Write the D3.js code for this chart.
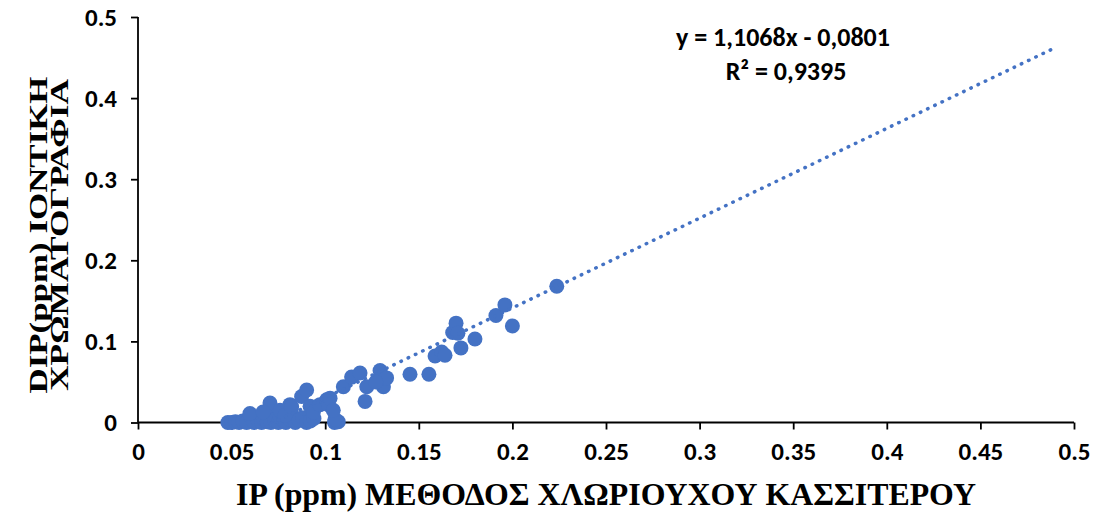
<!DOCTYPE html>
<html>
<head>
<meta charset="utf-8">
<script src="https://cdn.jsdelivr.net/npm/d3@7"></script>
<style>
  body { margin: 0; background: #fff; }
  .tick text { font-family: Carlito, Calibri, Lato, sans-serif; font-weight: bold; font-size: 25px; fill: #000; }
</style>
</head>
<body>
<div class="chart"></div>
<script>
//Data: IP (x) against DIP (y), in ppm.
var ipValues = [
  0.048, 0.050, 0.052, 0.054, 0.056, 0.058, 0.060, 0.062, 0.064, 0.066,
  0.067, 0.069, 0.071, 0.072, 0.073, 0.075, 0.076, 0.078, 0.079, 0.081,
  0.082, 0.084, 0.086, 0.088, 0.090, 0.092, 0.094, 0.105, 0.107,
  0.0705, 0.0812, 0.0598, 0.0759, 0.0668, 0.0785, 0.0821, 0.0874, 0.0901, 0.0919,
  0.0937, 0.0972, 0.1008, 0.1017, 0.1026, 0.1052, 0.1043, 0.1097, 0.1141, 0.1186,
  0.1213, 0.1222, 0.1293, 0.1311, 0.1328, 0.1270, 0.1453, 0.1554, 0.1587, 0.1622,
  0.1640, 0.1681, 0.1699, 0.1709, 0.1725, 0.1800, 0.1912, 0.1960, 0.2000, 0.2237
];
var dipValues = [
  0, 0, 0.001, 0, 0.002, 0, 0.008, 0, 0.003, 0,
  0.005, 0.001, 0, 0.010, 0.003, 0, 0.006, 0.002, 0, 0.004,
  0.011, 0, 0.003, 0.006, 0, 0.002, 0.005, 0, 0.001,
  0.024, 0.022, 0.011, 0.015, 0.013, 0.009, 0.0195, 0.032, 0.040, 0.020,
  0.013, 0.022, 0.028, 0.022, 0.030, 0.004, 0.015, 0.044, 0.056, 0.061,
  0.026, 0.044, 0.064, 0.044, 0.055, 0.050, 0.0595, 0.0595, 0.082, 0.087,
  0.083, 0.111, 0.1225, 0.110, 0.092, 0.103, 0.132, 0.145, 0.119, 0.168
];

//Trendline from the chart: y = 1,1068x - 0,0801 (forecast forward to 0.488).
var trendSlope = 1.1068;
var trendIntercept = -0.0801;
var trendEnd = 0.488;

var xTicks = [0, 0.05, 0.1, 0.15, 0.2, 0.25, 0.3, 0.35, 0.4, 0.45, 0.5];
var yTicks = [0, 0.1, 0.2, 0.3, 0.4, 0.5];

var xTitle = "IP (ppm) ΜΕΘΟΔΟΣ ΧΛΩΡΙΟΥΧΟΥ ΚΑΣΣΙΤΕΡΟΥ";
var yTitleLines = ["DIP(ppm) ΙΟΝΤΙΚΗ", "ΧΡΩΜΑΤΟΓΡΑΦΙΑ"];
var equationLines = ["y = 1,1068x - 0,0801", "R² = 0,9395"];

//SVG area and margins.
var svgWidth = 1097;
var svgHeight = 512;
var margin = { top: 17, right: 23, bottom: 90, left: 138 };
var chartWidth = 1074 - margin.left;
var chartHeight = 422.5 - margin.top;

var points = ipValues.map(function(d, i) {
  return { ip: d, dip: dipValues[i] };
});

var svgRoot = d3.select(".chart")
  .append("svg")
  .attr("width", svgWidth)
  .attr("height", svgHeight);

var svg = svgRoot.append("g")
  .attr("transform", "translate(" + margin.left + "," + margin.top + ")");

//Scales.
var xLinearScale = d3.scaleLinear().domain([0, 0.5]).range([0, chartWidth]);
var yLinearScale = d3.scaleLinear().domain([0, 0.5]).range([chartHeight, 0]);

svg.append("clipPath")
  .attr("id", "plotClip")
  .append("rect")
  .attr("x", -10)
  .attr("y", -10)
  .attr("width", chartWidth + 20)
  .attr("height", chartHeight + 10);

//Axes.
var bottomAxis = d3.axisBottom(xLinearScale)
  .tickValues(xTicks)
  .tickSize(7)
  .tickPadding(13)
  .tickFormat(function(d) { return String(d); });
var leftAxis = d3.axisLeft(yLinearScale)
  .tickValues(yTicks)
  .tickSize(7)
  .tickPadding(14)
  .tickFormat(function(d) { return String(d); });

var xAxisG = svg.append("g")
  .attr("transform", "translate(0," + chartHeight + ")")
  .call(bottomAxis);
var yAxisG = svg.append("g").call(leftAxis);

[xAxisG, yAxisG].forEach(function(g) {
  g.select(".domain").attr("stroke", "#000").attr("stroke-width", 1.8);
  g.selectAll(".tick line").attr("stroke", "#000").attr("stroke-width", 1.8);
});
xAxisG.select(".domain").attr("d", "M0,0H" + chartWidth);
yAxisG.select(".domain").attr("d", "M0," + chartHeight + "V0");

//Points.
svg.append("g")
  .selectAll("circle")
  .data(points)
  .enter()
  .append("circle")
  .attr("cx", function(d) { return xLinearScale(d.ip); })
  .attr("cy", function(d) { return yLinearScale(d.dip); })
  .attr("r", 7.5)
  .attr("fill", "#4472C4");

//Dotted trendline, clipped at y = 0.
var xMin = d3.min(ipValues);
var trendLine = d3.line()
  .x(function(d) { return xLinearScale(d); })
  .y(function(d) { return yLinearScale(trendSlope * d + trendIntercept); });

svg.append("path")
  .datum([xMin, trendEnd])
  .attr("clip-path", "url(#plotClip)")
  .attr("d", trendLine)
  .attr("fill", "none")
  .attr("stroke", "#4472C4")
  .attr("stroke-width", 3.5)
  .attr("stroke-linecap", "round")
  .attr("stroke-dasharray", "0.5,7.5");

//Equation label.
var eq = svgRoot.append("text")
  .attr("text-anchor", "middle")
  .style("font-family", "Carlito, Calibri, Lato, sans-serif")
  .style("font-weight", "bold")
  .style("font-size", "26px");
eq.append("tspan").attr("x", 783).attr("y", 46).text(equationLines[0]);
eq.append("tspan").attr("x", 786).attr("y", 80).text(equationLines[1]);

//Axis titles.
svgRoot.append("text")
  .attr("x", 606)
  .attr("y", 505)
  .attr("text-anchor", "middle")
  .attr("textLength", 740)
  .attr("lengthAdjust", "spacingAndGlyphs")
  .style("font-family", "'Liberation Serif', 'Times New Roman', serif")
  .style("font-weight", "bold")
  .style("font-size", "32px")
  .text(xTitle);

var yTitle = svgRoot.append("text")
  .attr("transform", "translate(0,235) rotate(-90)")
  .attr("text-anchor", "middle")
  .style("font-family", "'Liberation Serif', 'Times New Roman', serif")
  .style("font-weight", "bold")
  .style("font-size", "25px");
yTitle.append("tspan").attr("x", 0).attr("y", 47)
  .attr("textLength", 317).attr("lengthAdjust", "spacingAndGlyphs")
  .text(yTitleLines[0]);
yTitle.append("tspan").attr("x", 0).attr("y", 68)
  .attr("textLength", 312).attr("lengthAdjust", "spacingAndGlyphs")
  .text(yTitleLines[1]);
</script>
</body>
</html>
